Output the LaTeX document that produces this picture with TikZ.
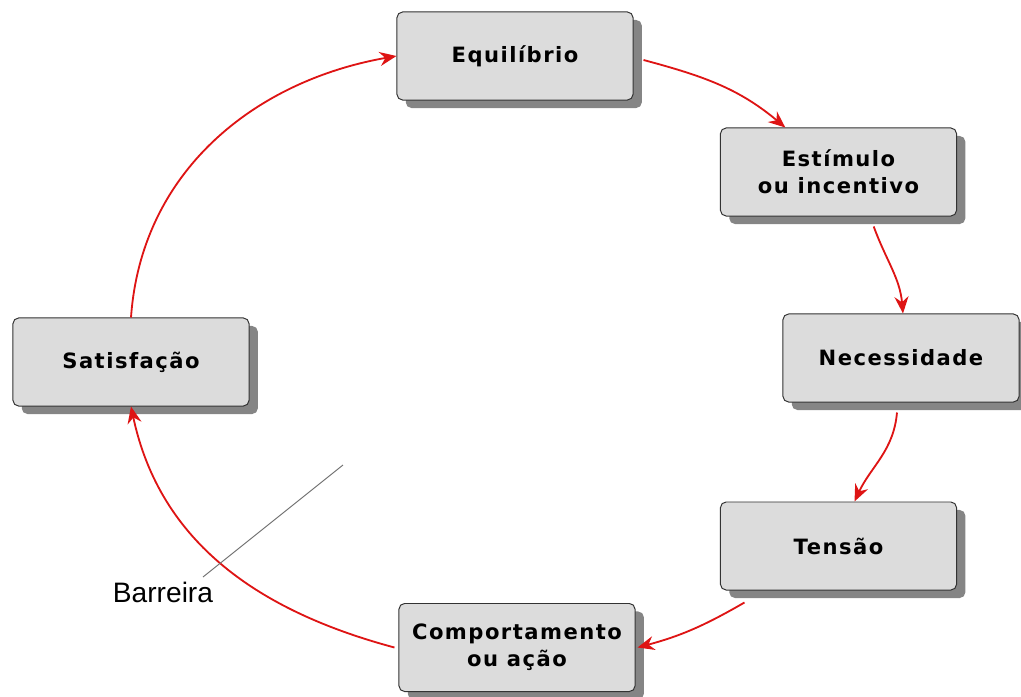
\documentclass[tikz,border=0pt]{standalone}
\usepackage{fontspec}
\usepackage{tikz}
\usetikzlibrary{shadows}
\usetikzlibrary{arrows.meta}
\newfontfamily\boxfont{DejaVu Sans}[LetterSpace=7]
\newfontfamily\barfont{Liberation Sans}
\definecolor{setared}{RGB}{222,20,20}
\definecolor{boxgray}{RGB}{220,220,220}

\begin{document}
\begin{tikzpicture}[x=0.025cm,y=-0.025cm,
    etapa/.style={draw=black!80, line width=0.7pt, fill=boxgray, rounded corners=4pt,
        minimum width=5.9cm, minimum height=2.2cm, align=center,
        font=\boxfont\bfseries\fontsize{15}{19}\selectfont,
        drop shadow={shadow xshift=0.22cm, shadow yshift=-0.2cm, fill=black!48, opacity=1}},
    seta/.style={draw=setared, line width=1.3pt, -{Stealth[length=12pt,width=10pt,inset=4pt]}}]
            \useasboundingbox (0,0) rectangle (1021,697);
            \node[etapa] (eq) at (515,56) {Equilíbrio};
            \node[etapa] (est) at (838.5,172) {Estímulo\\ou incentivo};
            \node[etapa] (nec) at (901,358) {Necessidade};
            \node[etapa] (ten) at (838.5,546) {Tensão};
            \node[etapa] (comp) at (517,647.5) {Comportamento\\ou ação};
            \node[etapa] (sat) at (131,362) {Satisfação};
            \draw[seta] ([xshift=0.25cm,yshift=-0.1cm]eq.east) to[out=-15,in=140] ([xshift=-1.33cm]est.north);
            \draw[seta] ([xshift=0.88cm,yshift=-0.25cm]est.south) to[out=-70,in=95] ([xshift=0.05cm]nec.north);
            \draw[seta] ([xshift=-0.1cm,yshift=-0.25cm]nec.south) to[out=-95,in=65] ([xshift=0.4cm]ten.north);
            \draw[seta] ([xshift=-2.35cm,yshift=-0.3cm]ten.south) to[out=-150,in=15] ([xshift=0.05cm]comp.east);
            \draw[seta] ([xshift=-0.1cm]comp.west) to[out=165,in=-78] (sat.south);
            \draw[seta] (sat.north) to[out=86,in=190] (eq.west);
            \node[font=\barfont\fontsize{20}{24}\selectfont] (bar) at (163,592) {Barreira};
            \coordinate (barTop) at (343,465);
            \coordinate (barBot) at (203,577);
            \draw[black!55, line width=0.7pt] (barTop) -- (barBot);
        \end{tikzpicture}
\end{document}
